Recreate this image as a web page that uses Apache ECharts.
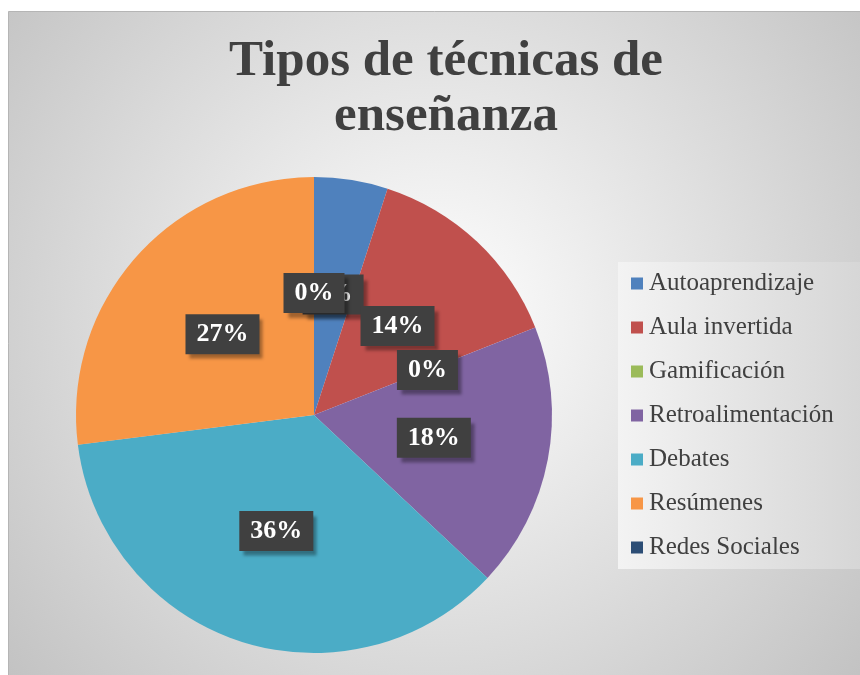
<!DOCTYPE html>
<html>
<head>
<meta charset="utf-8">
<script src="https://cdn.jsdelivr.net/npm/echarts@6/dist/echarts.min.js"></script>
<style>
html,body{margin:0;padding:0;background:#fff;}
#chart{width:860px;height:675px;}
</style>
</head>
<body>
<div id="chart"></div>
<script>
var titleText = 'Tipos de técnicas de\nenseñanza';
var categories = ['Autoaprendizaje', 'Aula invertida', 'Gamificación', 'Retroalimentación', 'Debates', 'Resúmenes', 'Redes Sociales'];
var values = [5, 14, 0, 18, 36, 27, 0];
var colors = ['#4F81BD', '#C0504D', '#9BBB59', '#8064A2', '#4BACC6', '#F79646', '#2C4D75'];

var chart = echarts.init(document.getElementById('chart'));
var data = categories.map(function (c, i) { return { name: c, value: values[i] }; });

chart.setOption({
  animation: false,
  color: colors,
  graphic: [{
    type: 'rect',
    silent: true,
    z: -10,
    shape: { x: 8.5, y: 11.5, width: 860, height: 670 },
    style: {
      fill: {
        type: 'radial', x: 434, y: 320, r: 560, global: true,
        colorStops: [{ offset: 0, color: '#ffffff' }, { offset: 1, color: '#c2c2c2' }]
      },
      stroke: '#b5b5b5',
      lineWidth: 1
    }
  }],
  title: {
    text: titleText,
    left: 441,
    textAlign: 'center',
    top: 29,
    textStyle: {
      fontFamily: 'Liberation Serif',
      fontWeight: 'bold',
      fontSize: 51,
      lineHeight: 55,
      color: '#404040'
    }
  },
  legend: {
    orient: 'vertical',
    left: 618,
    top: 262,
    padding: [9, 30, 9, 13],
    itemWidth: 12,
    itemHeight: 12,
    itemGap: 19,
    icon: 'rect',
    backgroundColor: {
      type: 'linear', x: 0, y: 0, x2: 1, y2: 0,
      colorStops: [{ offset: 0, color: '#f3f3f3' }, { offset: 1, color: '#d6d6d6' }]
    },
    textStyle: {
      fontFamily: 'Liberation Serif',
      fontSize: 25,
      lineHeight: 24,
      color: '#404040',
      padding: [0, 0, 0, 1]
    },
    data: categories
  },
  series: [{
    type: 'pie',
    center: [314, 415],
    radius: 238,
    startAngle: 90,
    clockwise: true,
    avoidLabelOverlap: false,
    labelLayout: { hideOverlap: false },
    label: {
      show: true,
      position: 'inside',
      formatter: function (p) { return p.value + '%'; },
      color: '#ffffff',
      fontFamily: 'Liberation Serif',
      fontWeight: 'bold',
      fontSize: 26,
      lineHeight: 26,
      backgroundColor: '#404040',
      padding: [7, 11],
      shadowColor: 'rgba(0,0,0,0.35)',
      shadowBlur: 3,
      shadowOffsetX: 4,
      shadowOffsetY: 5
    },
    labelLine: { show: false },
    emphasis: { disabled: true },
    data: data
  }]
});
</script>
</body>
</html>
